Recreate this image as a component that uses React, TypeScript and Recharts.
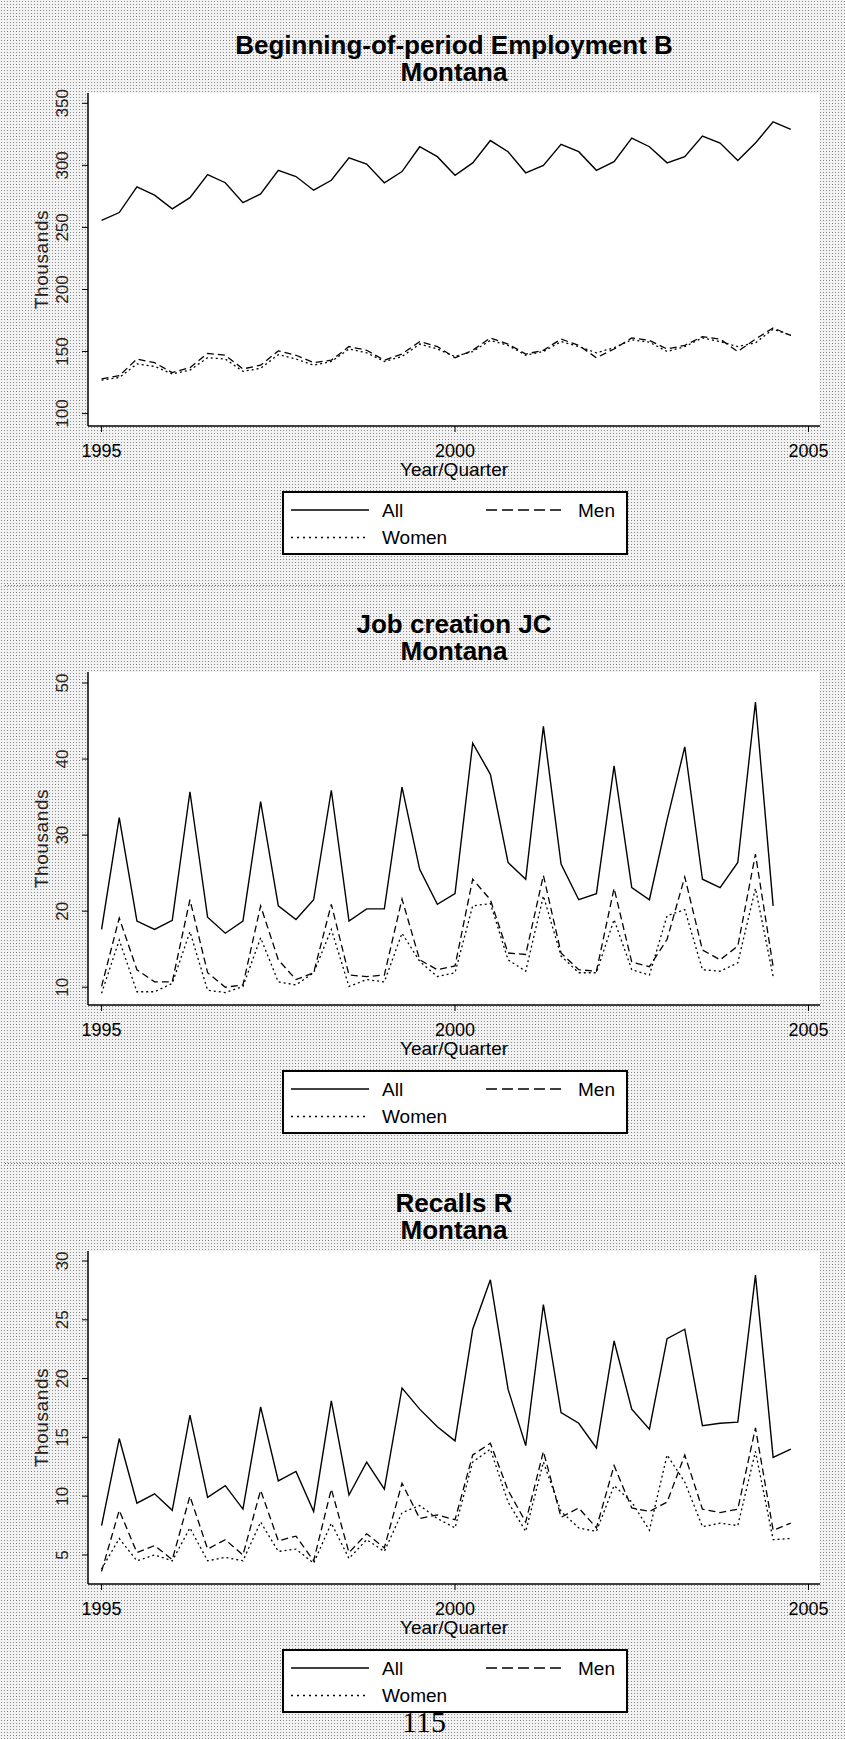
import React from 'react';
import { LineChart, Line, XAxis, YAxis, CartesianGrid, Legend } from 'recharts';

// quarters shown on every panel
const periods = [
  '1995q1', '1995q2', '1995q3', '1995q4', '1996q1', '1996q2', '1996q3', '1996q4',
  '1997q1', '1997q2', '1997q3', '1997q4', '1998q1', '1998q2', '1998q3', '1998q4',
  '1999q1', '1999q2', '1999q3', '1999q4', '2000q1', '2000q2', '2000q3', '2000q4',
  '2001q1', '2001q2', '2001q3', '2001q4', '2002q1', '2002q2', '2002q3', '2002q4',
  '2003q1', '2003q2', '2003q3', '2003q4', '2004q1', '2004q2', '2004q3', '2004q4',
];
const xTicks = [1995, 2000, 2005];

// Beginning-of-period Employment B
const empAll = [255.6, 262, 282.7, 276, 265, 274, 292.5, 286, 270, 277, 296, 291, 280, 288, 306, 301, 286, 295, 315, 307, 292, 302, 320, 311, 294, 300, 317, 311, 296, 303, 322, 315, 302, 307, 323.6, 318, 304, 318, 335, 329];
const empMen = [128, 130.5, 144, 141, 133, 137, 148.5, 147, 136, 139, 150.5, 147, 141, 143, 154, 151, 143, 148, 158, 154, 145, 151, 161, 156, 148, 151, 160, 155, 145, 152, 161, 159, 152, 155, 162, 160, 150, 160, 169, 163];
const empWomen = [127, 129, 140, 138, 132, 135, 145, 144, 134, 136.5, 147.5, 144, 139, 142, 152, 149, 142, 146, 156, 152, 146, 150, 159, 155, 147, 150, 158, 154, 149, 153, 159.5, 157.5, 150, 154, 161, 158, 154, 157, 168, 163];
const empTicks = [100, 150, 200, 250, 300, 350];

// Job creation JC (no value for the last quarter)
const jcAll = [17.6, 32.3, 18.7, 17.6, 18.8, 35.7, 19.2, 17.1, 18.7, 34.4, 20.7, 18.9, 21.5, 35.9, 18.7, 20.3, 20.3, 36.3, 25.5, 20.9, 22.3, 42.1, 38.0, 26.4, 24.2, 44.3, 26.2, 21.5, 22.3, 39.1, 23.1, 21.5, 32, 41.6, 24.2, 23.1, 26.4, 47.5, 20.7];
const jcMen = [10.1, 19.1, 12.3, 10.7, 10.7, 21.5, 11.9, 10.0, 10.3, 20.7, 13.6, 11.0, 11.9, 20.9, 11.6, 11.4, 11.6, 21.6, 13.6, 12.3, 12.8, 24.2, 21.5, 14.5, 14.3, 24.7, 14.5, 12.3, 12.1, 23.0, 13.3, 12.7, 16.3, 24.5, 14.9, 13.6, 15.4, 27.5, 12.7];
const jcWomen = [9.2, 16.2, 9.4, 9.4, 10.5, 17.3, 9.6, 9.3, 10.1, 16.5, 10.7, 10.3, 11.9, 17.6, 10.1, 11.0, 10.7, 17.1, 13.4, 11.4, 11.9, 20.7, 21.0, 13.6, 12.1, 22.0, 14.1, 11.9, 11.9, 18.9, 12.3, 11.6, 19.4, 20.2, 12.3, 12.1, 13.2, 23.0, 11.4];
const jcTicks = [10, 20, 30, 40, 50];

// Recalls R
const rcAll = [7.5, 14.9, 9.4, 10.2, 8.8, 16.9, 9.9, 10.9, 8.9, 17.6, 11.3, 12.1, 8.7, 18.1, 10.1, 12.9, 10.6, 19.2, 17.4, 15.9, 14.7, 24.2, 28.4, 19.1, 14.3, 26.3, 17.1, 16.2, 14.1, 23.2, 17.4, 15.7, 23.4, 24.2, 16.0, 16.2, 16.3, 28.8, 13.3, 14.0];
const rcMen = [3.6, 8.8, 5.2, 5.8, 4.6, 10.0, 5.5, 6.3, 5.0, 10.5, 6.2, 6.6, 4.5, 10.6, 5.2, 6.8, 5.6, 11.1, 8.1, 8.4, 8.0, 13.5, 14.5, 10.5, 7.8, 13.8, 8.2, 9.0, 7.3, 12.6, 9.0, 8.7, 9.5, 13.5, 8.9, 8.6, 8.9, 15.8, 7.1, 7.7];
const rcWomen = [3.8, 6.4, 4.5, 5.0, 4.5, 7.3, 4.5, 4.8, 4.5, 7.8, 5.3, 5.5, 4.3, 7.7, 4.7, 6.3, 5.3, 8.6, 9.2, 8.1, 7.3, 12.9, 14.0, 9.5, 7.0, 12.9, 8.7, 7.3, 7.0, 10.9, 9.5, 7.1, 13.5, 11.2, 7.4, 7.7, 7.5, 13.8, 6.3, 6.4];
const rcTicks = [5, 10, 15, 20, 25, 30];

const toTime = (p: string) => Number(p.slice(0, 4)) + (Number(p.slice(5)) - 1) / 4;

const buildRows = (all: number[], men: number[], women: number[]) =>
  periods.map((p, i) => ({ t: toTime(p), all: all[i], men: men[i], women: women[i] }));

const FONT = '"Liberation Sans", Arial, Helvetica, sans-serif';
const PLOT_TOP = 93;
const PLOT_H = 333;
const CHART_H = 560;

const YTick = (props: any) => {
  const { x, y, payload } = props;
  return (
    <text x={x} y={y} transform={`rotate(-90 ${x} ${y})`} textAnchor="middle" fontSize={17} fill="#222">
      {payload.value}
    </text>
  );
};

const ThousandsLabel = () => (
  <text x={48} y={PLOT_TOP + PLOT_H / 2} transform={`rotate(-90 48 ${PLOT_TOP + PLOT_H / 2})`}
    textAnchor="middle" fontSize={19} fill="#222" letterSpacing={0.6}>
    Thousands
  </text>
);

const YearLabel = () => (
  <text x={454} y={PLOT_TOP + PLOT_H + 49.5} textAnchor="middle" fontSize={19} fill="#000">
    Year/Quarter
  </text>
);

const LegendBox = () => (
  <svg width={346} height={64} style={{ display: 'block' }}>
    <rect x={1} y={1} width={344} height={62} fill="#fff" stroke="#000" strokeWidth={2} />
    <line x1={9} x2={87} y1={19} y2={19} stroke="#000" strokeWidth={1.5} />
    <text x={100} y={25.8} fontSize={19} fill="#000">All</text>
    <line x1={204} x2={284} y1={19} y2={19} stroke="#000" strokeWidth={1.5} strokeDasharray="11 5" />
    <text x={296} y={25.8} fontSize={19} fill="#000">Men</text>
    <line x1={9} x2={86} y1={46.5} y2={46.5} stroke="#000" strokeWidth={1.3} strokeDasharray="2 4" />
    <text x={100} y={53.3} fontSize={19} fill="#000">Women</text>
  </svg>
);

interface PanelProps {
  top: number;
  rows: Record<string, number>[];
  domain: [number, number];
  ticks: number[];
}

const Panel: React.FC<PanelProps> = ({ top, rows, domain, ticks }) => (
  <div style={{ position: 'absolute', top, left: 0 }}>
    <LineChart width={845} height={CHART_H} data={rows}
      margin={{ top: PLOT_TOP, right: 25, left: 0, bottom: 0 }}>
      <CartesianGrid horizontal={false} vertical={false} fill="#fff" stroke="none" />
      <XAxis dataKey="t" type="number" domain={[1994.808, 2005.163]} allowDataOverflow ticks={xTicks}
        height={CHART_H - PLOT_TOP - PLOT_H} tickSize={6} tickMargin={12}
        tick={{ fontSize: 18, fill: '#000' }}
        axisLine={{ stroke: '#000', strokeWidth: 1.5 }} tickLine={{ stroke: '#000' }}
        label={<YearLabel />} />
      <YAxis type="number" domain={domain} allowDataOverflow ticks={ticks} width={88}
        tickSize={6} tickMargin={14} tick={<YTick />}
        axisLine={{ stroke: '#000', strokeWidth: 1.5 }} tickLine={{ stroke: '#000' }}
        label={<ThousandsLabel />} />
      <Legend layout="horizontal" verticalAlign="middle" align="center" content={<LegendBox />}
        wrapperStyle={{ top: 491, left: 282, width: 346, height: 64 }} />
      <Line dataKey="all" name="All" type="linear" stroke="#000" strokeWidth={1.4} dot={false} isAnimationActive={false} />
      <Line dataKey="men" name="Men" type="linear" stroke="#000" strokeWidth={1.3} strokeDasharray="7 4" dot={false} isAnimationActive={false} />
      <Line dataKey="women" name="Women" type="linear" stroke="#000" strokeWidth={1.3} strokeDasharray="2 3" dot={false} isAnimationActive={false} />
    </LineChart>
  </div>
);

const panels = [
  { title: 'Beginning-of-period Employment B', plotTop: 93, rows: buildRows(empAll, empMen, empWomen), domain: [90, 358.3] as [number, number], ticks: empTicks },
  { title: 'Job creation JC', plotTop: 672, rows: buildRows(jcAll, jcMen, jcWomen), domain: [7.66, 51.45] as [number, number], ticks: jcTicks },
  { title: 'Recalls R', plotTop: 1251, rows: buildRows(rcAll, rcMen, rcWomen), domain: [2.53, 30.85] as [number, number], ticks: rcTicks },
];

export default function App() {
  return (
    <div style={{
      position: 'absolute', top: 0, left: 0, width: 845, height: 1739, overflow: 'hidden',
      fontFamily: FONT,
      backgroundColor: '#f2f2f2',
      backgroundImage: 'radial-gradient(#8a8a8a 0.7px, transparent 1px)',
      backgroundSize: '3px 3px',
    }}>
      {panels.map((p) => (
        <Panel key={p.title} top={p.plotTop - PLOT_TOP} rows={p.rows} domain={p.domain} ticks={p.ticks} />
      ))}
      <svg width={845} height={1739} style={{ position: 'absolute', top: 0, left: 0, pointerEvents: 'none' }}>
        {panels.map((p) => (
          <g key={p.title}>
            <text x={454} y={p.plotTop - 39} textAnchor="middle" fontSize={26} fontWeight="bold" fill="#000">{p.title}</text>
            <text x={454} y={p.plotTop - 11.7} textAnchor="middle" fontSize={26} fontWeight="bold" fill="#000">Montana</text>
          </g>
        ))}
        <line x1={5} x2={845} y1={585.5} y2={585.5} stroke="#666" strokeDasharray="1 2" />
        <line x1={5} x2={845} y1={1163.5} y2={1163.5} stroke="#666" strokeDasharray="1 2" />
        <text x={424} y={1732} textAnchor="middle" fontSize={30}
          fontFamily='"Liberation Serif", "Times New Roman", serif' fill="#000">115</text>
      </svg>
    </div>
  );
}
